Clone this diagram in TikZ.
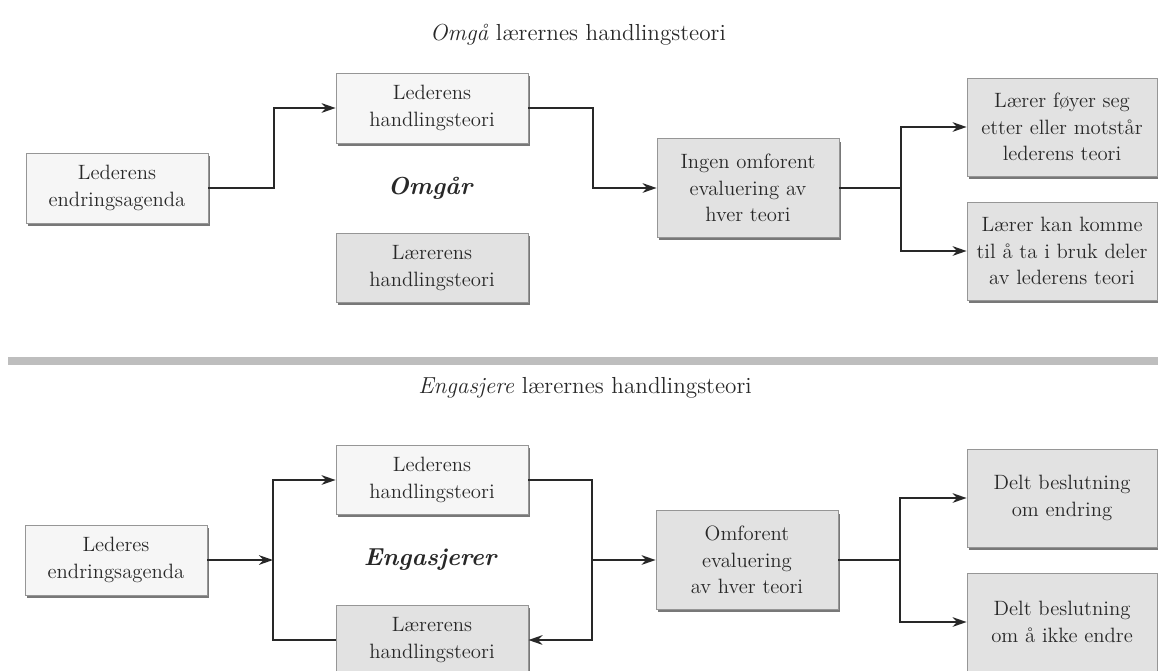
\documentclass[tikz,border=0pt]{standalone}
\usepackage{tikz}
\usetikzlibrary{arrows.meta, positioning, shadows}
\usepackage{xcolor}
\definecolor{inkgray}{RGB}{40,40,40}
\definecolor{paleleder}{RGB}{246,246,246}
\definecolor{palelaerer}{RGB}{226,226,226}
\definecolor{framegray}{RGB}{150,150,150}
\definecolor{shadegray}{RGB}{120,120,120}
\definecolor{bandgray}{RGB}{190,190,190}

\tikzset{
  boxbase/.style={draw=framegray, line width=0.5pt, align=center,
    text=inkgray, font=\fontsize{11.8}{15}\selectfont, inner sep=2pt,
    drop shadow={shadow xshift=1.4pt, shadow yshift=-1.6pt,
      fill=shadegray, opacity=1}},
  lederbox/.style={boxbase, fill=paleleder,
    minimum width=3.64cm, minimum height=1.4cm},
  laererbox/.style={boxbase, fill=palelaerer,
    minimum width=3.84cm, minimum height=1.38cm},
  evalbox/.style={boxbase, fill=palelaerer,
    minimum width=3.64cm, minimum height=1.97cm},
  resultbox/.style={boxbase, fill=palelaerer,
    minimum width=3.8cm, minimum height=1.96cm},
  flow/.style={draw=inkgray, line width=1.1pt,
    -{Stealth[length=8pt, width=5.5pt]}},
  flowplain/.style={draw=inkgray, line width=1.1pt},
  headline/.style={text=inkgray, font=\fontsize{13.2}{16}\selectfont},
  midlabel/.style={text=inkgray, font=\fontsize{14}{17}\selectfont\bfseries\itshape}
}

\begin{document}
\begin{tikzpicture}[x=0.02cm, y=-0.02cm]
  \useasboundingbox (0,0) rectangle (1158,670);

  % --- omgaa: upper half ---
  \node[headline] (ttlA) at (578,35) {\textit{Omgå} lærernes handlingsteori};

  \node[lederbox] (agA) at (117,188) {Lederens\\endringsagenda};
  \node[lederbox, minimum width=3.84cm] (ledA) at (432,108) {Lederens\\handlingsteori};
  \node[midlabel] (omg) at (430,188) {Omgår};
  \node[laererbox] (larA) at (432,268) {Lærerens\\handlingsteori};
  \node[evalbox] (evA) at (748,188) {Ingen omforent\\evaluering av\\hver teori};
  \node[resultbox] (resA1) at (1062,127) {Lærer føyer seg\\etter eller motstår\\lederens teori};
  \node[resultbox] (resA2) at (1062,251) {Lærer kan komme\\til å ta i bruk deler\\av lederens teori};

  \draw[flow] (agA.east) -- ++(66,0) |- (ledA.west);
  \draw[flow] (ledA.east) -- ++(65,0) |- (evA.west);
  \draw[flowplain] (evA.east) -- ++(62,0) coordinate (jA);
  \draw[flow] (jA) |- (resA1.west);
  \draw[flow] (jA) |- (resA2.west);

  % separator
  \fill[bandgray] (8,357) rectangle (1158,365);

  % --- engasjere: lower half ---
  \node[headline] (ttlB) at (585,388) {\textit{Engasjere} lærernes handlingsteori};

  \node[lederbox] (agB) at (116,560) {Lederes\\endringsagenda};
  \node[lederbox, minimum width=3.84cm, minimum height=1.38cm] (ledB) at (432,480) {Lederens\\handlingsteori};
  \node[midlabel] (eng) at (430,560) {Engasjerer};
  \node[laererbox] (larB) at (432,640) {Lærerens\\handlingsteori};
  \node[evalbox] (evB) at (747,560) {Omforent\\evaluering\\av hver teori};
  \node[resultbox] (resB1) at (1062,498) {Delt beslutning\\om endring};
  \node[resultbox] (resB2) at (1062,622) {Delt beslutning\\om å ikke endre};

  \coordinate (spl) at (273,560);
  \coordinate (jB) at (592,560);
  \draw[flow] (agB.east) -- (spl);
  \draw[flow] (larB.west) -- ++(-63,0) |- (ledB.west);
  \draw[flow] (ledB.east) -- ++(64,0) |- (larB.east);
  \draw[flow] (jB) -- (evB.west);
  \draw[flowplain] (evB.east) -- ++(62,0) coordinate (jC);
  \draw[flow] (jC) |- (resB1.west);
  \draw[flow] (jC) |- (resB2.west);
\end{tikzpicture}
\end{document}
